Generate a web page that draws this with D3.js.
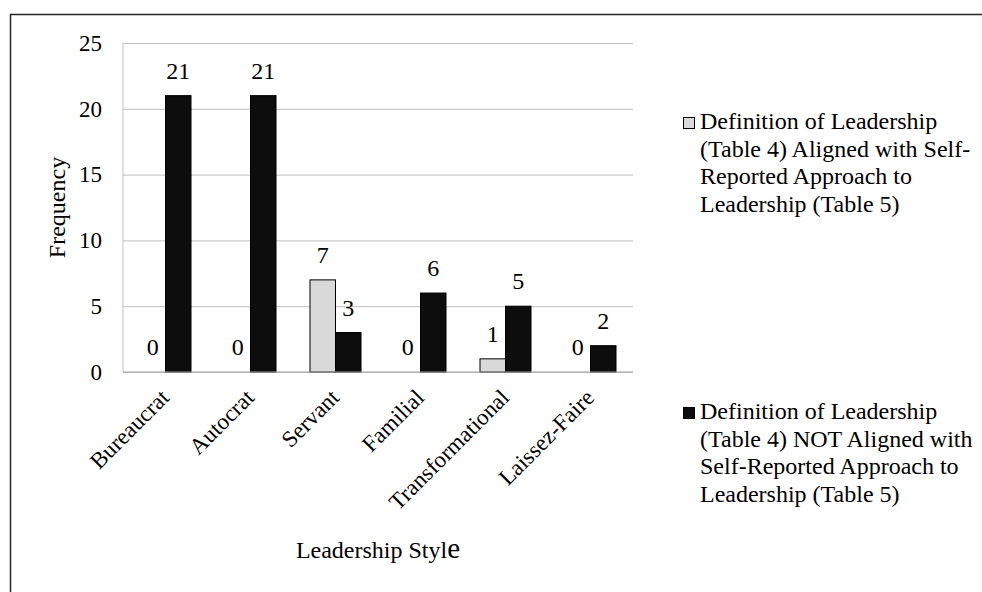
<!DOCTYPE html>
<html><head><meta charset="utf-8">
<script src="https://cdn.jsdelivr.net/npm/d3@7"></script>
<style>
body{margin:0;background:#fff}
svg{display:block}
text{font-family:"Liberation Serif","Times New Roman",serif;fill:#000}
</style>
</head><body>
<svg id="c" width="982" height="592"></svg>
<script>
const categories = ["Bureaucrat","Autocrat","Servant","Familial","Transformational","Laissez-Faire"];
const alignedValues = [0,0,7,0,1,0];
const notAlignedValues = [21,21,3,6,5,2];
const yTicks = [0,5,10,15,20,25];
const legendAlignedLines = ["Definition of Leadership","(Table 4) Aligned with Self-","Reported Approach to","Leadership (Table 5)"];
const legendNotAlignedLines = ["Definition of Leadership","(Table 4) NOT Aligned with","Self-Reported Approach to","Leadership (Table 5)"];
const xTitle = "Leadership Style";
const yTitle = "Frequency";

const FONT = '"Liberation Serif","Times New Roman",serif';
const series = [
  {key:"a", values:alignedValues, fill:"#d9d9d9", lines:legendAlignedLines, legendY:129},
  {key:"n", values:notAlignedValues, fill:"#0d0d0d", lines:legendNotAlignedLines, legendY:419}
];

const svg = d3.select("#c").style("font-family",FONT);
svg.append("rect").attr("x",10.5).attr("y",14.5).attr("width",1000).attr("height",1000)
  .attr("fill","none").attr("stroke","#262626").attr("stroke-width",1.5);

const P = {left:123, right:633, top:43, bottom:372};
const x0 = d3.scaleBand().domain(categories).range([P.left,P.right]).paddingInner(0.4).paddingOuter(0.2);
const x1 = d3.scaleBand().domain(series.map(s=>s.key)).range([0,x0.bandwidth()]);
const y = d3.scaleLinear().domain([0,25]).range([P.bottom,P.top]);

// gridlines
const grid = svg.append("g").attr("transform",`translate(${P.left},0)`)
  .call(d3.axisLeft(y).tickValues(yTicks).tickSize(-(P.right-P.left)).tickFormat(""));
grid.select(".domain").remove();
grid.selectAll("line").attr("stroke","#bfbfbf").attr("stroke-width",1);

// y axis line
svg.append("line").attr("x1",P.left).attr("x2",P.left).attr("y1",y(25)).attr("y2",y(0))
  .attr("stroke","#bfbfbf");

// tick labels
const ya = svg.append("g").attr("transform",`translate(${P.left},0)`)
  .call(d3.axisLeft(y).tickValues(yTicks).tickSize(0).tickPadding(21));
ya.attr("font-family",null);
ya.select(".domain").remove();
ya.selectAll("text").style("font-family",FONT).style("font-size","23px").attr("fill","#000");

// bars
const groups = svg.append("g").selectAll("g").data(categories).join("g")
  .attr("transform",d=>`translate(${x0(d)},0)`);
series.forEach(s=>{
  groups.filter((d,i)=>s.values[i]>0).append("rect")
    .attr("x",x1(s.key)).attr("width",x1.bandwidth())
    .attr("y",(d)=>y(s.values[categories.indexOf(d)]))
    .attr("height",(d)=>y(0)-y(s.values[categories.indexOf(d)]))
    .attr("fill",s.fill).attr("stroke","#000").attr("stroke-width",1);
});

// baseline
svg.append("line").attr("x1",P.left).attr("x2",P.right).attr("y1",y(0)).attr("y2",y(0))
  .attr("stroke","#a6a6a6").attr("stroke-width",1.2);

// data labels
series.forEach(s=>{
  groups.append("text")
    .attr("x",x1(s.key)+x1.bandwidth()/2)
    .attr("y",(d)=>y(s.values[categories.indexOf(d)])-17)
    .attr("text-anchor","middle").style("font-family",FONT).style("font-size","24px")
    .text((d)=>s.values[categories.indexOf(d)]);
});

// category axis
const xa = svg.append("g").attr("transform",`translate(0,${P.bottom})`)
  .call(d3.axisBottom(x0).tickSize(0));
xa.attr("font-family",null);
xa.select(".domain").remove();
xa.selectAll("text").attr("x",0).attr("y",0).attr("dy",0)
  .attr("transform","translate(5,27) rotate(-45)")
  .style("text-anchor","end").style("font-family",FONT)
  .style("font-size","23px").attr("fill","#000");

// axis titles
const xt = svg.append("text").attr("x",(P.left+P.right)/2).attr("y",558)
  .attr("text-anchor","middle").style("font-family",FONT).style("font-size","24px");
xt.append("tspan").text(xTitle.slice(0,-1));
xt.append("tspan").style("font-size","29px").text(xTitle.slice(-1));

svg.append("text").attr("transform",`translate(65,${(P.top+P.bottom)/2}) rotate(-90)`)
  .attr("text-anchor","middle").style("font-family",FONT).style("font-size","24px").text(yTitle);

// legend
series.forEach(s=>{
  svg.append("rect").attr("x",683.5).attr("y",s.legendY-11.5).attr("width",11).attr("height",11)
    .attr("fill",s.fill).attr("stroke","#000").attr("stroke-width",1);
  const t = svg.append("text").attr("x",700).attr("y",s.legendY)
    .style("font-family",FONT).style("font-size","24px");
  s.lines.forEach((ln,i)=>{
    t.append("tspan").attr("x",700).attr("y",s.legendY+i*27.6).text(ln);
  });
});
</script>
</body></html>
